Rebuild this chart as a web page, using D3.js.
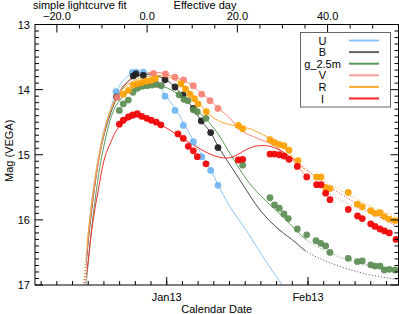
<!DOCTYPE html>
<html>
<head>
<meta charset="utf-8">
<script src="https://cdn.jsdelivr.net/npm/d3@7"></script>
<style>
body { margin: 0; background: #fff; }
text { font-family: "Liberation Sans", Arial, Helvetica, sans-serif; font-size: 11px; fill: #000; }
</style>
</head>
<body>
<div id="chart"></div>
<script>
// bands, in legend order
var bands = ["U", "B", "g_2.5m", "V", "R", "I"];
var dotColors = ["#6fb5f2", "#1c1c1c", "#5b8c52", "#fa8072", "#ffa000", "#f00000"];
var lineColors = ["#8cc6f7", "#4a4a4a", "#5f9a58", "#f88878", "#ffaa30", "#f03030"];
var legendColors = ["#88c4ff", "#666666", "#5a9a5a", "#f9a0a0", "#ffaa33", "#ff2020"];

// observations: [days since 2013-01-01, mag]
var obsU = [[-11.12,14.03],[-7.55,13.74],[-6.74,13.73],[-5.13,13.73],[-0.37,14.10],[1.82,14.32],[3.64,14.55],[5.84,14.80],[7.68,15.03],[9.65,15.24],[11.25,15.47]];
var obsB = [[-11.01,14.11],[-7.33,13.79],[-6.74,13.76],[-5.13,13.78],[-0.37,13.85],[1.82,13.96],[3.58,14.08],[5.84,14.29],[7.59,14.48],[9.65,14.66],[11.25,14.89]];
var obsG = [[-10.40,14.32],[-9.52,14.22],[-8.42,14.16],[-7.39,14.04],[-6.41,13.98],[-5.38,13.95],[-4.28,13.94],[-3.23,13.93],[-2.19,13.92],[-1.18,13.94],[2.70,14.08],[3.80,14.15],[4.67,14.17],[5.84,14.31],[6.71,14.34],[8.62,14.44],[16.67,15.16],[22.66,15.66],[23.65,15.77],[24.70,15.82],[25.73,15.91],[26.68,15.98],[28.65,16.14],[30.72,16.23],[32.76,16.32],[33.79,16.36],[34.88,16.40],[35.83,16.50],[39.84,16.59],[41.82,16.64],[42.91,16.63],[44.76,16.69],[45.70,16.71],[46.80,16.71],[47.74,16.77],[48.84,16.76],[50.09,16.77]];
var obsV = [[-10.90,14.12],[-2.90,13.75],[-0.26,13.76],[1.82,13.81],[3.69,13.85],[5.84,13.94],[7.68,14.07],[9.50,14.17],[11.25,14.29]];
var obsR = [[-9.52,14.07],[-8.42,14.01],[-7.39,13.93],[-6.41,13.91],[-5.42,13.89],[-4.43,13.87],[-3.44,13.86],[-2.46,13.83],[3.14,13.91],[4.12,13.99],[5.11,14.07],[6.10,14.14],[6.87,14.22],[8.69,14.34],[15.71,14.55],[16.67,14.60],[22.66,14.77],[23.61,14.81],[24.70,14.84],[25.73,14.86],[26.83,14.93],[28.81,15.09],[32.87,15.34],[33.85,15.34],[34.88,15.50],[35.83,15.52],[39.84,15.58],[41.86,15.76],[42.91,15.80],[44.76,15.86],[45.70,15.90],[46.80,15.89],[47.76,15.95],[48.84,15.99],[50.09,16.01]];
var obsI = [[-10.40,14.53],[-9.52,14.47],[-8.42,14.42],[-7.46,14.39],[-6.45,14.37],[-5.48,14.41],[-4.39,14.44],[-3.40,14.47],[-2.30,14.50],[-1.29,14.54],[2.48,14.68],[3.64,14.75],[4.74,14.87],[5.84,14.94],[6.71,15.03],[8.62,15.14],[15.71,15.08],[16.67,15.07],[22.66,14.99],[23.61,14.99],[24.70,15.00],[25.73,15.02],[26.83,15.07],[28.65,15.18],[30.72,15.34],[32.91,15.46],[33.85,15.46],[34.88,15.59],[35.83,15.69],[39.84,15.84],[41.86,15.94],[42.91,15.98],[44.76,16.06],[45.70,16.10],[46.80,16.14],[47.76,16.17],[48.84,16.20],[50.31,16.30]];

// simple lightcurve fit
var fitU = [[-18.58,17.15],[-18.36,17.00],[-17.71,16.62],[-16.98,16.05],[-16.17,15.54],[-14.79,14.97],[-13.76,14.62],[-12.44,14.31],[-11.12,14.05],[-9.81,13.88],[-8.49,13.79],[-7.17,13.74],[-5.86,13.74],[-4.54,13.75],[-3.23,13.81],[-1.91,13.91],[-0.37,14.08],[1.82,14.28],[3.58,14.50],[5.77,14.77],[7.68,15.00],[9.65,15.23],[11.25,15.46],[13.89,15.80],[17.55,16.17],[21.13,16.57],[25.52,17.02],[26.5,17.12]];
var fitB = [[-18.4,17.15],[-18.14,17.00],[-17.49,16.54],[-16.83,16.08],[-14.63,14.97],[-12.44,14.39],[-10.25,14.04],[-8.05,13.85],[-5.86,13.78],[-4.10,13.76],[-2.57,13.78],[-0.37,13.84],[1.82,13.96],[3.58,14.10],[5.77,14.28],[7.53,14.48],[9.50,14.64],[11.25,14.87],[13.45,15.11],[16.08,15.39],[18.28,15.63],[20.47,15.85],[22.66,16.02],[24.86,16.16],[28.15,16.34],[30.56,16.48],[35.83,16.66],[43.07,16.82],[50.75,16.92],[52,16.94]];
var fitG = [[-18.0,17.2],[-17.71,17.00],[-17.05,16.54],[-16.39,16.08],[-14.26,15.03],[-11.78,14.34],[-10.25,14.16],[-8.05,14.01],[-5.86,13.94],[-3.66,13.92],[-1.91,13.93],[0.29,13.98],[2.48,14.07],[4.23,14.16],[6.21,14.30],[8.62,14.45],[11.25,14.68],[13.45,14.93],[16.08,15.23],[17.62,15.39],[20.47,15.62],[23.32,15.81],[27.05,16.06],[30.72,16.31],[35.83,16.51],[43.07,16.68],[50.75,16.77],[52,16.78]];
var fitV = [[-18.4,17.2],[-18.14,17.00],[-17.49,16.49],[-16.83,16.03],[-14.63,14.97],[-12.44,14.34],[-10.25,14.01],[-8.05,13.84],[-5.86,13.76],[-3.66,13.74],[-1.47,13.74],[0.72,13.78],[2.92,13.84],[5.11,13.91],[7.31,14.04],[9.50,14.16],[11.25,14.28],[13.89,14.44],[16.08,14.62],[20.03,14.75],[23.32,14.85],[27.05,15.05],[30.78,15.34],[33.63,15.51],[39.12,15.73],[45.04,15.91],[50.75,16.06],[52,16.09]];
var fitR = [[-18.6,17.2],[-18.36,17.00],[-17.71,16.57],[-17.05,16.08],[-14.85,15.00],[-12.44,14.34],[-10.25,14.04],[-8.05,13.90],[-5.86,13.82],[-3.66,13.79],[-1.91,13.78],[0.29,13.81],[2.04,13.85],[4.01,13.96],[5.77,14.10],[7.53,14.24],[9.50,14.39],[11.69,14.49],[13.89,14.54],[16.08,14.57],[18.28,14.60],[20.47,14.67],[22.66,14.75],[24.86,14.85],[27.05,14.99],[28.81,15.13],[30.34,15.23],[38.02,15.54],[45.04,15.80],[50.75,15.96],[52,15.99]];
var fitI = [[-18.2,17.2],[-17.92,17.03],[-17.27,16.65],[-16.24,16.05],[-15.01,15.54],[-13.54,15.03],[-12.22,14.80],[-10.97,14.62],[-9.15,14.49],[-7.61,14.44],[-6.30,14.42],[-4.98,14.44],[-3.66,14.48],[-1.47,14.54],[0.72,14.62],[2.92,14.73],[5.11,14.82],[7.31,14.91],[9.50,14.99],[11.69,15.04],[13.45,15.05],[15.20,15.01],[17.18,14.93],[19.37,14.87],[20.91,14.86],[22.66,14.87],[24.86,14.93],[27.05,15.03],[28.59,15.11],[33.63,15.39],[40.22,15.69],[45.04,15.89],[50.75,16.11],[52,16.16]];

// part of each fit drawn solid (days), dotted outside
var fitStart = [-17.6, -17.6, -17.6, -17.6, -17.6, -17.6];
var fitEnd = [40, 30.56, 30.72, 30.78, 30.34, 28.59];

var magTicks = [13, 14, 15, 16, 17];
var effTicks = [-20, 0, 20, 40];
var monthTicks = ["2013-01-01", "2013-02-01"];
var peakDay = -4.3;      // effective day 0
var effStretch = 0.99;
var dayDomain = [-28.9, 50.86];

var obsAll = [obsU, obsB, obsG, obsV, obsR, obsI];
var fitAll = [fitU, fitB, fitG, fitV, fitR, fitI];

var W = 399, H = 314;
var m = {l: 35, r: 398.5, t: 24.5, b: 285};

var svg = d3.select("#chart").append("svg")
    .attr("width", W)
    .attr("height", H);

var base = Date.UTC(2013, 0, 1);
function toDate(d) { return new Date(base + d * 864e5); }

var x = d3.scaleUtc().domain(dayDomain.map(toDate)).range([m.l, m.r]);
var y = d3.scaleLinear().domain([13, 17]).range([m.t, m.b]);
var xe = d3.scaleLinear()
    .domain(dayDomain.map(function(d) { return (d - peakDay) / effStretch; }))
    .range([m.l, m.r]);

var defs = svg.append("defs");
defs.append("clipPath").attr("id", "plotclip")
    .append("rect").attr("x", m.l).attr("y", m.t)
    .attr("width", m.r - m.l).attr("height", m.b - m.t);

var line = d3.line()
    .x(function(d) { return x(toDate(d[0])); })
    .y(function(d) { return y(d[1]); })
    .curve(d3.curveCatmullRom);

var plot = svg.append("g").attr("clip-path", "url(#plotclip)");

// fit curves: solid inside the fit range, dotted outside
fitAll.forEach(function(fit, i) {
    var x0 = x(toDate(fitStart[i])), x1 = Math.min(x(toDate(fitEnd[i])), m.r + 5);
    defs.append("clipPath").attr("id", "in" + i)
        .append("rect").attr("x", x0).attr("y", 0).attr("width", x1 - x0).attr("height", H);
    var out = defs.append("clipPath").attr("id", "out" + i);
    out.append("rect").attr("x", 0).attr("y", 0).attr("width", x0).attr("height", H);
    out.append("rect").attr("x", x1).attr("y", 0).attr("width", W).attr("height", H);

    plot.append("path").datum(fit)
        .attr("d", line)
        .attr("clip-path", "url(#in" + i + ")")
        .attr("fill", "none")
        .attr("stroke", lineColors[i])
        .attr("stroke-width", 1);
    plot.append("path").datum(fit)
        .attr("d", line)
        .attr("clip-path", "url(#out" + i + ")")
        .attr("fill", "none")
        .attr("stroke", lineColors[i])
        .attr("stroke-width", 1)
        .attr("stroke-dasharray", "1,2");
});

// data points
obsAll.forEach(function(obs, i) {
    plot.selectAll(".pt" + i)
        .data(obs)
        .enter()
        .append("circle")
        .attr("class", "pt" + i)
        .attr("cx", function(d) { return x(toDate(d[0])); })
        .attr("cy", function(d) { return y(d[1]); })
        .attr("r", 3.4)
        .attr("fill", dotColors[i])
        .attr("opacity", 0.92);
});

// frame
svg.append("rect")
    .attr("x", m.l).attr("y", m.t)
    .attr("width", m.r - m.l).attr("height", m.b - m.t)
    .attr("fill", "none").attr("stroke", "#000").attr("stroke-width", 1);

var ticks = svg.append("g").attr("stroke", "#000").attr("stroke-width", 1);

// mag axis, left and right
d3.range(130, 171).forEach(function(k) {
    var v = k / 10, len = (k % 10 === 0) ? 8 : 4, yy = y(v);
    ticks.append("line").attr("x1", m.l).attr("x2", m.l + len).attr("y1", yy).attr("y2", yy);
    ticks.append("line").attr("x1", m.r).attr("x2", m.r - len).attr("y1", yy).attr("y2", yy);
});
svg.selectAll(".ylab")
    .data(magTicks)
    .enter()
    .append("text")
    .attr("class", "ylab")
    .attr("x", m.l - 5)
    .attr("y", function(d) { return y(d) + 4; })
    .attr("text-anchor", "end")
    .text(function(d) { return d; });

// calendar axis (bottom)
var monthDates = monthTicks.map(function(s) { return new Date(s + "T00:00:00Z"); });
var step = 31 / 9;
d3.range(Math.ceil(dayDomain[0] / step), Math.floor(dayDomain[1] / step) + 1).forEach(function(k) {
    var xx = x(toDate(k * step));
    ticks.append("line").attr("x1", xx).attr("x2", xx).attr("y1", m.b).attr("y2", m.b - 4);
});
monthDates.forEach(function(d) {
    var xx = x(d);
    ticks.append("line").attr("x1", xx).attr("x2", xx).attr("y1", m.b).attr("y2", m.b - 8);
});
svg.selectAll(".xlab")
    .data(monthDates)
    .enter()
    .append("text")
    .attr("class", "xlab")
    .attr("x", function(d) { return x(d); })
    .attr("y", 300.5)
    .attr("text-anchor", "middle")
    .text(d3.utcFormat("%b%y"));
svg.append("text")
    .attr("x", (m.l + m.r) / 2)
    .attr("y", 312.5)
    .attr("text-anchor", "middle")
    .text("Calendar Date");

// effective day axis (top)
d3.range(-25, 55, 5).forEach(function(v) {
    var xx = xe(v);
    if (xx < m.l || xx > m.r) return;
    var len = (v % 20 === 0) ? 8 : 4;
    ticks.append("line").attr("x1", xx).attr("x2", xx).attr("y1", m.t).attr("y2", m.t + len);
});
svg.selectAll(".elab")
    .data(effTicks)
    .enter()
    .append("text")
    .attr("class", "elab")
    .attr("x", function(d) { return xe(d); })
    .attr("y", 20)
    .attr("text-anchor", "middle")
    .text(d3.format(".1f"));
svg.append("text")
    .attr("x", 33)
    .attr("y", 8.5)
    .text("simple lightcurve fit");
svg.append("text")
    .attr("x", 205)
    .attr("y", 8.5)
    .attr("text-anchor", "middle")
    .text("Effective day");

svg.append("text")
    .attr("transform", "translate(13," + ((m.t + m.b) / 2 - 4) + ") rotate(-90)")
    .attr("text-anchor", "middle")
    .text("Mag (VEGA)");

// legend
var leg = svg.append("g");
leg.append("rect")
    .attr("x", 300.5).attr("y", 32.5)
    .attr("width", 90).attr("height", 74.5)
    .attr("fill", "#fff").attr("stroke", "#666").attr("stroke-width", 1);
bands.forEach(function(b, i) {
    var yy = 40.5 + i * 11.6;
    leg.append("text")
        .attr("x", 322.5).attr("y", yy + 4)
        .attr("text-anchor", "middle")
        .text(b);
    leg.append("line")
        .attr("x1", 349).attr("x2", 379)
        .attr("y1", yy).attr("y2", yy)
        .attr("stroke", legendColors[i])
        .attr("stroke-width", 2);
});
</script>
</body>
</html>
